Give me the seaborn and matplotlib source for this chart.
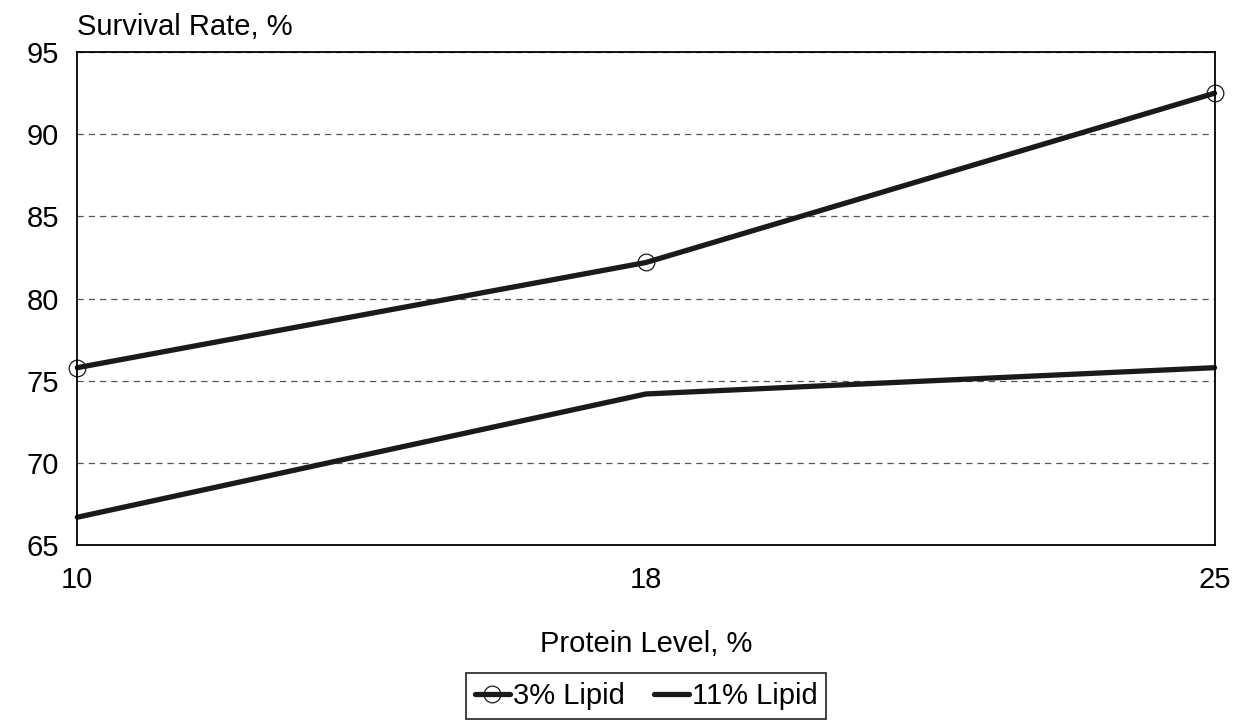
import pandas as pd
import matplotlib
matplotlib.use("Agg")
import matplotlib.pyplot as plt
import seaborn as sns

protein = ["10", "18", "25"]
lipid_3 = [75.8, 82.2, 92.5]
lipid_11 = [66.7, 74.2, 75.8]

df = pd.DataFrame({
    "Protein": protein * 2,
    "Survival": lipid_3 + lipid_11,
    "Series": ["3% Lipid"] * 3 + ["11% Lipid"] * 3,
})

sns.set_theme(style="white")
plt.rcParams["font.family"] = ["Liberation Sans", "DejaVu Sans"]
plt.rcParams["text.color"] = "black"

fig, ax = plt.subplots(figsize=(12.47, 7.24), dpi=100)
fig.subplots_adjust(left=0.062, right=0.974, top=0.928, bottom=0.247)

sns.lineplot(data=df[df["Series"] == "3% Lipid"], x="Protein", y="Survival",
             ax=ax, color="#1a1a1a", lw=3.8, marker="o", markersize=12,
             markerfacecolor="none", markeredgecolor="#1a1a1a", markeredgewidth=0.9,
             label="3% Lipid", clip_on=False, zorder=4)
sns.lineplot(data=df[df["Series"] == "11% Lipid"], x="Protein", y="Survival",
             ax=ax, color="#1a1a1a", lw=3.8, label="11% Lipid",
             clip_on=False, zorder=4)

ax.set_xlim(0, 2)
ax.set_ylim(65, 95)
ax.set_yticks([65, 70, 75, 80, 85, 90, 95])
ax.yaxis.grid(True, linestyle=(0, (5, 4)), color="#555555", lw=0.9)
ax.xaxis.grid(False)
for s in ax.spines.values():
    s.set_color("black")
    s.set_linewidth(1.3)
    s.set_zorder(5)
ax.tick_params(axis="both", labelsize=21, length=0, colors="black")
ax.tick_params(axis="y", pad=13)
ax.tick_params(axis="x", pad=15)
ax.set_xlabel("Protein Level, %", fontsize=21, labelpad=26, color="black")
ax.set_ylabel("")
ax.text(0.0, 1.022, "Survival Rate, %", transform=ax.transAxes,
        fontsize=21, ha="left", va="bottom", color="black")

leg = ax.legend(loc="upper center", bbox_to_anchor=(0.5, -0.23), ncol=2,
                frameon=True, fontsize=21, handlelength=1.2, handletextpad=0.1,
                columnspacing=1.0, borderpad=0.3, fancybox=False)
leg.get_frame().set_edgecolor("black")
leg.get_frame().set_linewidth(1.3)
for t in leg.get_texts():
    t.set_color("black")

fig.savefig("out.png", dpi=100)
